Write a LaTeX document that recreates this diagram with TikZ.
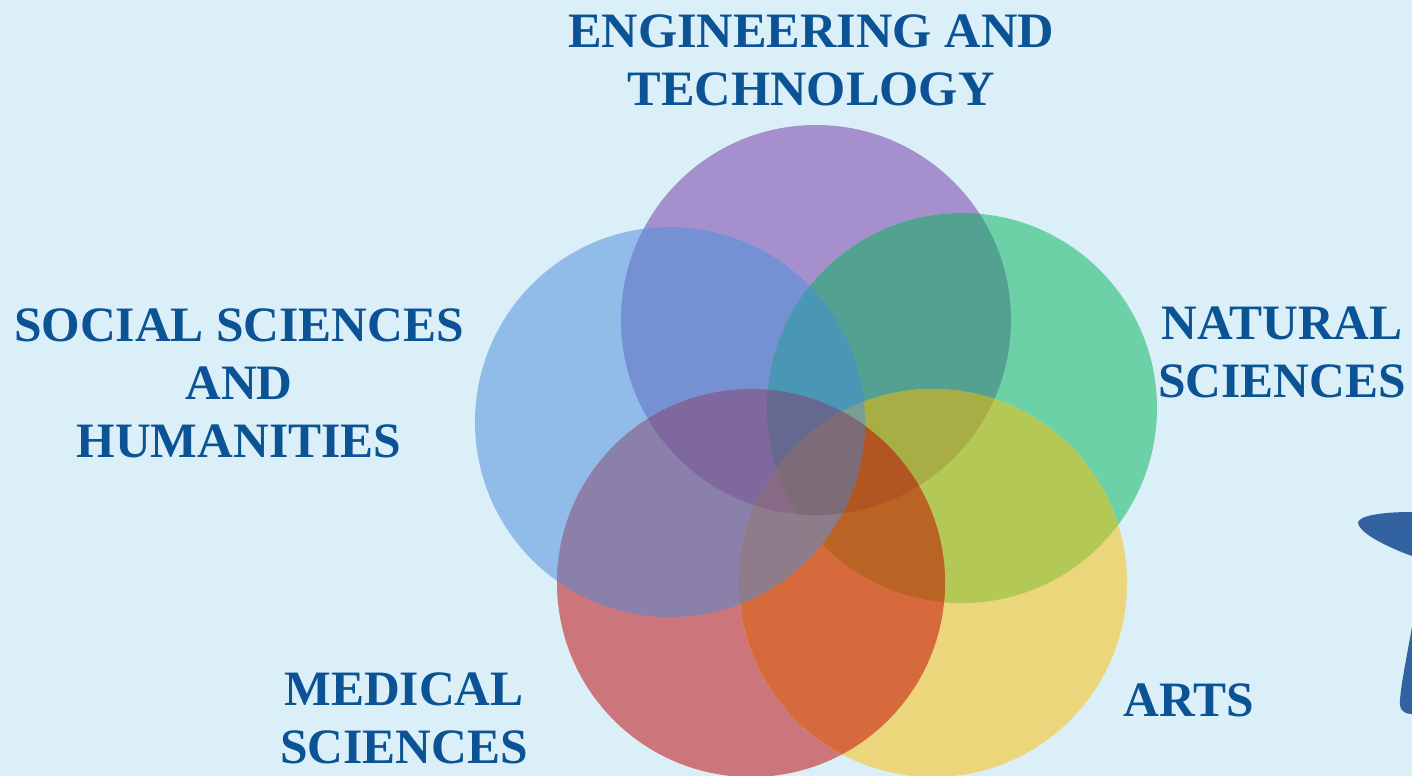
\documentclass[tikz,border=0pt]{standalone}
\usepackage{fontspec}
\setmainfont{Liberation Serif}
\definecolor{bgc}{HTML}{DBEFF8}
\definecolor{lab}{HTML}{0B5394}
\definecolor{starc}{HTML}{3263A0}
\newcommand{\cP}{\clip (816,320) circle (195);}
\newcommand{\cB}{\clip (670,422) circle (195);}
\newcommand{\cG}{\clip (962,408) circle (195);}
\newcommand{\cR}{\clip (751,583) circle (194);}
\newcommand{\cY}{\clip (933,583) circle (194);}
\newcommand{\rg}[2]{\begin{scope}\definecolor{regc}{HTML}{#1}#2\fill[regc] (0,0) rectangle (1412,776);\end{scope}}
\begin{document}
\begin{tikzpicture}[x=1pt,y=-1pt,
 lbl/.style={text=lab,font=\bfseries\fontsize{49.5}{58}\selectfont,align=center,inner sep=0pt}]
\useasboundingbox (0,0) rectangle (1412,776);
\fill[bgc] (0,0) rectangle (1412,776);
% single
\rg{A58FCD}{\cP}
\rg{91BCEA}{\cB}
\rg{6DD1A8}{\cG}
\rg{CC757B}{\cR}
\rg{ECD67B}{\cY}
% pairs
\rg{7690D4}{\cP\cB}
\rg{53A191}{\cP\cG}
\rg{8A80A9}{\cB\cR}
\rg{B4C856}{\cG\cY}
\rg{D76A3C}{\cR\cY}
% triples
\rg{4A97B5}{\cP\cB\cG}
\rg{7E689E}{\cP\cB\cR}
\rg{A8AD45}{\cP\cG\cY}
\rg{8E7C8B}{\cB\cR\cY}
\rg{B96324}{\cG\cR\cY}
% quadruples
\rg{66698F}{\cP\cB\cG\cR}
\rg{7A9E93}{\cP\cB\cG\cY}
\rg{876A85}{\cP\cB\cR\cY}
\rg{B15620}{\cP\cG\cR\cY}
\rg{8C7B88}{\cB\cG\cR\cY}
% all five
\rg{7B6C78}{\cP\cB\cG\cR\cY}
\fill[starc] (1412,512) .. controls (1380,512) and (1358,516) .. (1358,523) .. controls (1360,535) and (1395,550) .. (1412,556) -- cycle;
\fill[starc] (1412,627) .. controls (1406,660) and (1399,695) .. (1400,705) .. controls (1401,712) and (1406,714) .. (1412,714) -- cycle;
\node[lbl,xscale=1.018] (eng) at (811,60) {ENGINEERING AND\\TECHNOLOGY};
\node[lbl] (soc) at (239,383) {SOCIAL SCIENCES\\AND\\HUMANITIES};
\node[lbl] (nat) at (1282,352) {NATURAL\\SCIENCES};
\node[lbl] (med) at (404,718) {MEDICAL\\SCIENCES};
\node[lbl] (art) at (1189,700) {ARTS};
\end{tikzpicture}
\end{document}
